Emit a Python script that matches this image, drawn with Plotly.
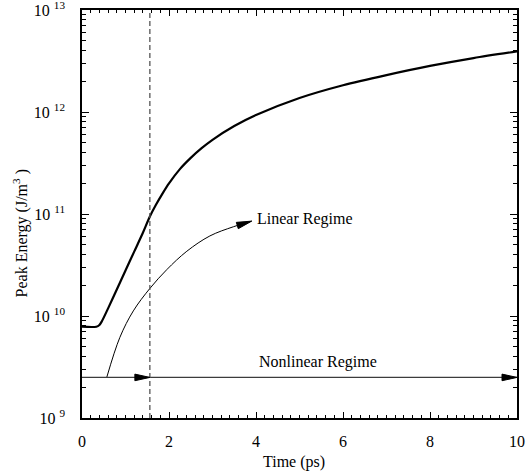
import math
import plotly.graph_objects as go

# ---------------- data ----------------
# Thick curve (peak energy, J/m^3) vs time (ps)
t_total = [0.0, 0.33, 0.40, 0.46, 0.6, 0.8, 1.0, 1.2, 1.4, 1.56, 1.7, 1.85, 2.0,
           2.25, 2.5, 2.75, 3.0, 3.5, 4.0, 5.0, 6.0, 7.0, 8.0, 9.0, 10.0]
log_total = [9.895, 9.895, 9.912, 9.951, 10.075, 10.26, 10.446, 10.631, 10.816, 10.975,
             11.09, 11.2, 11.3, 11.44, 11.55, 11.645, 11.727, 11.862, 11.97, 12.137,
             12.262, 12.362, 12.452, 12.529, 12.594]
e_total = [10 ** v for v in log_total]

# Thin curve (linear regime) – ends at arrow tip
t_linear = [0.57, 0.87, 1.18, 1.56, 1.95, 2.41, 2.94, 3.48, 3.90]
log_linear = [9.40, 9.79, 10.05, 10.27, 10.455, 10.635, 10.785, 10.875, 10.93]
e_linear = [10 ** v for v in log_linear]

# Nonlinear regime horizontal arrow
nonlinear_level = 2.5e9
nonlinear_span = [0.0, 10.0]
nonlinear_arrow_tips = [1.56, 10.0]

# Vertical dashed boundary
boundary_t = 1.56

# Axis ticks
x_ticks = [0, 2, 4, 6, 8, 10]
y_tick_vals = [1e9, 1e10, 1e11, 1e12, 1e13]
y_tick_text = ["10 <sup>9</sup>", "10 <sup>10</sup>", "10 <sup>11</sup>",
               "10 <sup>12</sup>", "10 <sup>13</sup>"]
y_minor_vals = [m * d for d in [1e9, 1e10, 1e11, 1e12] for m in range(2, 10)]

Y_LOG_MIN, Y_LOG_MAX = 9, 13
FONT = "Liberation Serif, Times New Roman, serif"

fig = go.Figure()

fig.add_trace(go.Scatter(x=t_total, y=e_total, mode="lines",
                         line=dict(color="black", width=2.2, shape="spline", smoothing=0.8),
                         showlegend=False, hoverinfo="skip"))
fig.add_trace(go.Scatter(x=t_linear, y=e_linear, mode="lines",
                         line=dict(color="black", width=1, shape="spline", smoothing=1.0),
                         showlegend=False, hoverinfo="skip"))
fig.add_trace(go.Scatter(x=nonlinear_span, y=[nonlinear_level] * 2, mode="lines",
                         line=dict(color="#3c3c3c", width=1.3),
                         showlegend=False, hoverinfo="skip"))


def paper_y(v):
    return (math.log10(v) - Y_LOG_MIN) / (Y_LOG_MAX - Y_LOG_MIN)


def arrowhead(t, v, angle_deg, length=15, half_w=3.3):
    a = math.radians(angle_deg)
    dx, dy = math.cos(a), math.sin(a)
    nx, ny = -dy, dx
    bx, by = -length * dx, -length * dy
    p1 = (bx + half_w * nx, by + half_w * ny)
    p2 = (bx - half_w * nx, by - half_w * ny)
    path = "M0,0 L{:.2f},{:.2f} L{:.2f},{:.2f} Z".format(p1[0], p1[1], p2[0], p2[1])
    return dict(type="path", xref="x", yref="paper", xsizemode="pixel", ysizemode="pixel",
                xanchor=t, yanchor=paper_y(v), path=path,
                fillcolor="black", line=dict(color="black", width=1))


shapes = [
    dict(type="line", xref="x", yref="paper", x0=boundary_t, x1=boundary_t, y0=0, y1=1,
         line=dict(color="#555555", width=1.3, dash="5px,3px")),
]
for tip in nonlinear_arrow_tips:
    shapes.append(arrowhead(tip, nonlinear_level, 0))
shapes.append(arrowhead(t_linear[-1], e_linear[-1], 17))

annotations = [
    dict(text="Linear Regime", x=3.98, y=10.948, xref="x", yref="y",
         xanchor="left", yanchor="middle", showarrow=False,
         font=dict(family=FONT, size=16, color="black")),
    dict(text="Nonlinear Regime", x=4.02, y=9.552, xref="x", yref="y",
         xanchor="left", yanchor="middle", showarrow=False,
         font=dict(family=FONT, size=16, color="black")),
    dict(text="Time (ps)", x=0.487, y=-0.108, xref="paper", yref="paper",
         xanchor="center", yanchor="middle", showarrow=False,
         font=dict(family=FONT, size=16, color="black")),
    dict(text="Peak Energy (J/m<sup>3</sup> )", x=-0.142, y=0.453, xref="paper", yref="paper",
         xanchor="center", yanchor="middle", showarrow=False, textangle=-90,
         font=dict(family=FONT, size=16, color="black")),
]

fig.update_layout(
    width=526, height=474,
    margin=dict(l=82, r=9, t=10, b=56, autoexpand=False),
    paper_bgcolor="white", plot_bgcolor="white",
    font=dict(family=FONT, size=16, color="black"),
    shapes=shapes, annotations=annotations,
    showlegend=False,
)
fig.update_xaxes(
    range=[0, 10], tickvals=x_ticks, ticks="inside", ticklen=6, tickwidth=1,
    tickcolor="black", showline=True, linecolor="black", linewidth=1.5, mirror="allticks",
    showgrid=False, zeroline=False, ticklabelstandoff=8, automargin=False,
    ticklabeloverflow="allow",
    minor=dict(dtick=0.2, ticks="inside", ticklen=3, tickcolor="black", showgrid=False),
)
fig.update_yaxes(
    type="log", range=[Y_LOG_MIN, Y_LOG_MAX], tickvals=y_tick_vals, ticktext=y_tick_text,
    ticks="inside", ticklen=7, tickwidth=1, tickcolor="black",
    showline=True, linecolor="black", linewidth=1.5, mirror="allticks",
    showgrid=False, zeroline=False, ticklabelstandoff=12, automargin=False,
    ticklabeloverflow="allow",
    minor=dict(tickvals=y_minor_vals, ticks="inside", ticklen=4, tickcolor="black",
               showgrid=False),
)

fig.write_html(
    "out.html",
    config={"displayModeBar": False},
    post_script="document.body.style.margin='0';document.body.style.overflow='hidden';",
)
